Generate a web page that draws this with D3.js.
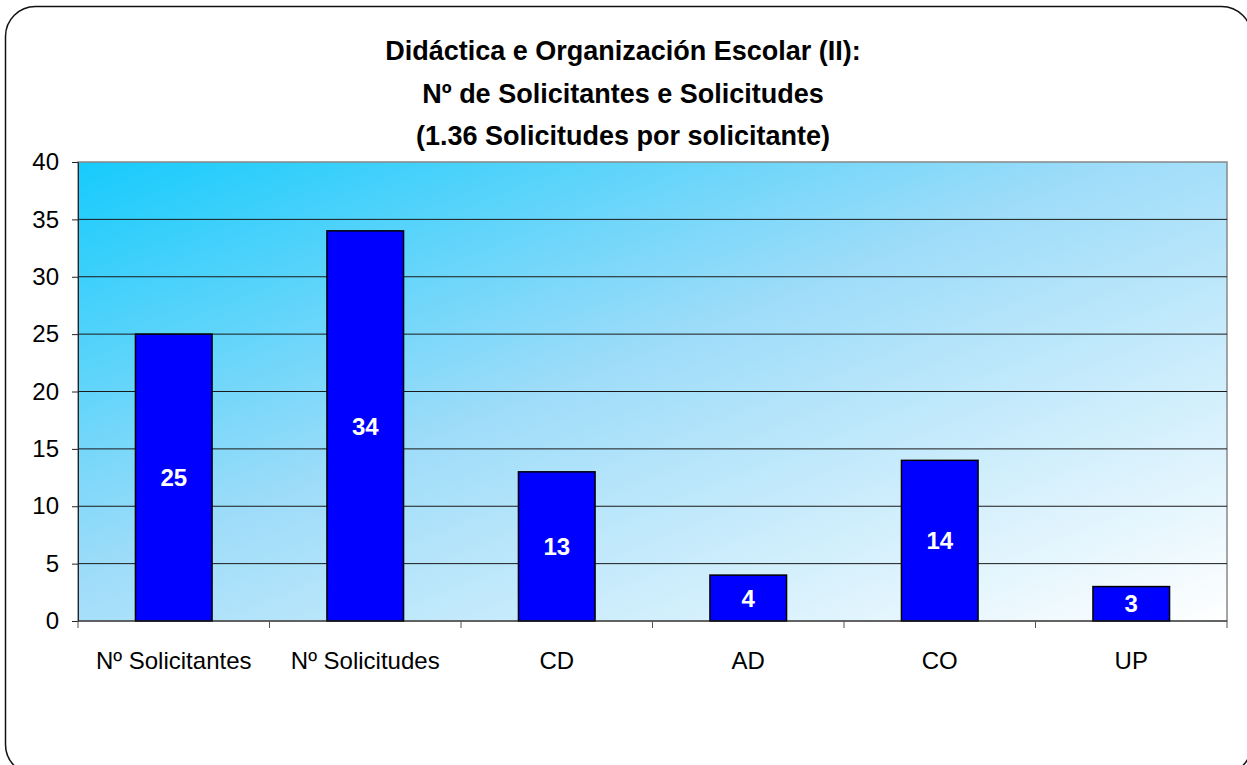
<!DOCTYPE html>
<html lang="es">
<head>
<meta charset="utf-8">
<title>Didáctica e Organización Escolar (II)</title>
<style>
body { margin: 0; background: #fff; }
svg { display: block; font-family: "Liberation Sans", Arial, sans-serif; }
.axis text { font-size: 24px; fill: #000; }
.axis .domain { stroke: #222; }
.axis .tick line { stroke: #222; }
</style>
</head>
<body>
<svg width="1247" height="765"></svg>
<script src="https://cdn.jsdelivr.net/npm/d3@7"></script>
<script>

const titleLines = ['Didáctica e Organización Escolar (II):',
                    'Nº de Solicitantes e Solicitudes',
                    '(1.36 Solicitudes por solicitante)'];
const categories = ['Nº Solicitantes', 'Nº Solicitudes', 'CD', 'AD', 'CO', 'UP'];
const values = [25, 34, 13, 4, 14, 3];
const yTicks = [0, 5, 10, 15, 20, 25, 30, 35, 40];

const svg = d3.select('svg'),
    margin = {top: 162, right: 20, bottom: 144, left: 78},
    width = +svg.attr('width') - margin.left - margin.right,
    height = +svg.attr('height') - margin.top - margin.bottom;

// rounded frame round the whole chart (runs off the right and bottom edges)
svg.append('rect')
    .attr('x', 5.5).attr('y', 6.5)
    .attr('width', 1246).attr('height', 768)
    .attr('rx', 30).attr('ry', 30)
    .attr('fill', 'none')
    .attr('stroke', '#111')
    .attr('stroke-width', 1.5);

// plot background gradient: cyan top-left to almost white bottom-right
const defs = svg.append('defs');
const grad = defs.append('linearGradient')
    .attr('id', 'bg')
    .attr('x1', '0%').attr('y1', '0%')
    .attr('x2', '100%').attr('y2', '100%');
grad.append('stop').attr('offset', '0%').attr('stop-color', '#16cbfc');
grad.append('stop').attr('offset', '45%').attr('stop-color', '#9ddcf9');
grad.append('stop').attr('offset', '100%').attr('stop-color', '#ffffff');

const x = d3.scaleBand().domain(categories).range([0, width]).paddingInner(0).paddingOuter(0);
const y = d3.scaleLinear().domain([0, 40]).range([height, 0]);
const barW = x.bandwidth() * 0.4;

const g = svg.append('g')
    .attr('transform', 'translate(' + margin.left + ',' + margin.top + ')');

g.append('rect')
    .attr('width', width).attr('height', height)
    .attr('fill', 'url(#bg)')
    .attr('stroke', '#888')
    .attr('stroke-width', 1.5);

// horizontal grid lines
g.append('g')
  .selectAll('line')
  .data(yTicks.filter(d => d > 0 && d < 40))
  .enter().append('line')
    .attr('x1', 0).attr('x2', width)
    .attr('y1', d => y(d)).attr('y2', d => y(d))
    .attr('stroke', '#1a1a1a')
    .attr('stroke-width', 1);

// bars
g.append('g')
  .selectAll('rect')
  .data(values)
  .enter().append('rect')
    .attr('x', (d, i) => x(categories[i]) + (x.bandwidth() - barW) / 2)
    .attr('y', d => y(d))
    .attr('width', barW)
    .attr('height', d => height - y(d))
    .attr('fill', '#0000ff')
    .attr('stroke', '#000')
    .attr('stroke-width', 1.5);

// value labels in the middle of each bar
g.append('g')
  .selectAll('text')
  .data(values)
  .enter().append('text')
    .attr('x', (d, i) => x(categories[i]) + x.bandwidth() / 2)
    .attr('y', d => (y(d) + height) / 2)
    .attr('dy', '0.36em')
    .attr('text-anchor', 'middle')
    .attr('fill', '#fff')
    .attr('font-weight', 'bold')
    .attr('font-size', 24)
    .text(d => d);

// y axis
g.append('g')
    .attr('class', 'axis')
    .call(d3.axisLeft(y).tickValues(yTicks).tickSize(6).tickPadding(13).tickSizeOuter(0));

// x axis, ticks at category boundaries
const xAxis = g.append('g')
    .attr('class', 'axis')
    .attr('transform', 'translate(0,' + height + ')');
xAxis.append('line')
    .attr('x1', 0).attr('x2', width)
    .attr('stroke', '#222');
xAxis.selectAll('line.tk')
  .data(d3.range(categories.length + 1))
  .enter().append('line')
    .attr('class', 'tk')
    .attr('x1', i => i * x.bandwidth()).attr('x2', i => i * x.bandwidth())
    .attr('y1', 0).attr('y2', 7)
    .attr('stroke', '#555');
xAxis.selectAll('text')
  .data(categories)
  .enter().append('text')
    .attr('x', d => x(d) + x.bandwidth() / 2)
    .attr('y', 48)
    .attr('text-anchor', 'middle')
    .text(d => d);

// title
svg.append('g')
  .selectAll('text')
  .data(titleLines)
  .enter().append('text')
    .attr('x', 623)
    .attr('y', (d, i) => 60 + i * 42.5)
    .attr('text-anchor', 'middle')
    .attr('font-weight', 'bold')
    .attr('font-size', 27)
    .text(d => d);

</script>
</body>
</html>
